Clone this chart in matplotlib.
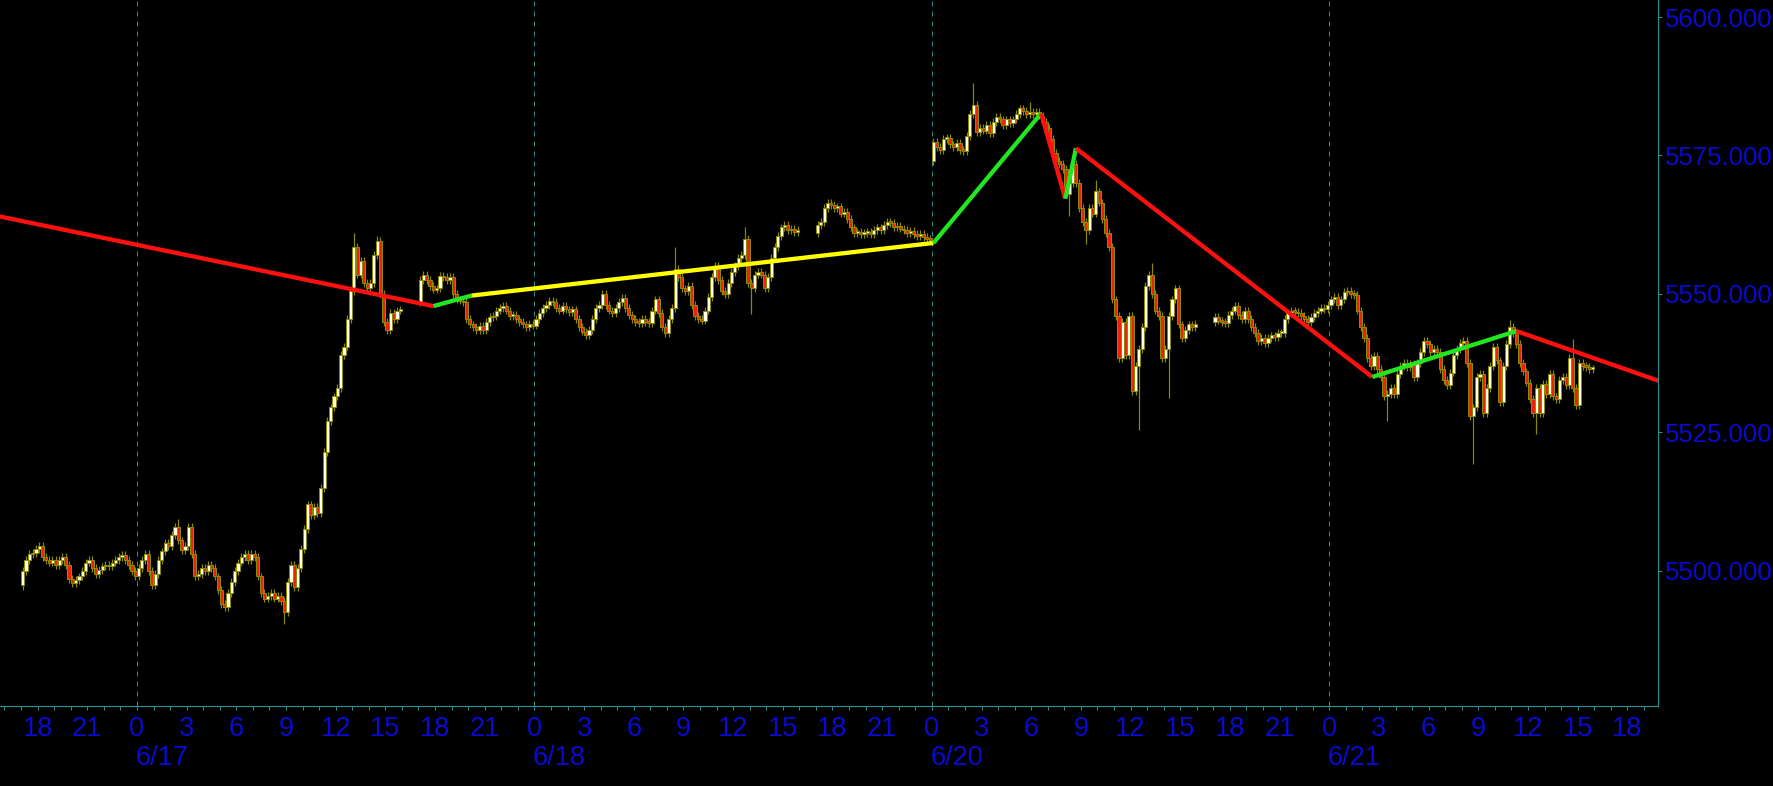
import matplotlib
matplotlib.use('Agg')
import matplotlib.pyplot as plt

plt.rcParams['font.family'] = ['Liberation Sans', 'DejaVu Sans']

# ---------------- data ----------------
# Time axis: hours from 6/17 00:00 on the chart's compressed axis (6/19 is skipped).
# Bars are 12-minute bars (5 per hour). Each session: start hour, first open, closes.
session_starts = [-7.0, 17.0, 41.0, 48.0, 65.0]
session_opens = [5497.5, 5548.5, 5561.0, 5574.0, 5545.0]

close_s1 = [
    5500.0, 5502.0, 5503.0, 5503.2, 5504.0,
    5504.5, 5502.5, 5502.0, 5501.5, 5502.0,
    5501.0, 5502.0, 5502.5, 5501.0, 5498.5,
    5497.8, 5498.3, 5499.0, 5500.0, 5501.5,
    5502.0, 5500.5, 5499.5, 5500.2, 5500.8,
    5501.0, 5500.8, 5501.5, 5502.0, 5502.5,
    5502.8, 5502.0, 5501.0, 5500.0, 5499.0,
    5500.5, 5502.0, 5503.0, 5500.0, 5497.5,
    5499.5, 5502.0, 5503.5, 5505.0, 5504.5,
    5506.5, 5508.0, 5505.5, 5503.8, 5504.5,
    5508.0, 5503.0, 5499.0, 5499.5, 5500.5,
    5500.0, 5501.0, 5500.5, 5499.0, 5496.5,
    5494.0, 5493.5, 5496.0, 5498.0, 5500.0,
    5501.5, 5502.5, 5503.0, 5502.0, 5503.0,
    5502.5, 5499.0, 5496.0, 5495.0, 5495.5,
    5496.0, 5495.0, 5495.5, 5494.5, 5492.5,
    5498.0, 5501.0, 5497.0, 5500.5, 5504.0,
    5507.5, 5512.0, 5510.0, 5511.5, 5510.5,
    5515.0, 5521.5, 5527.0, 5529.5, 5531.5,
    5533.0, 5539.0, 5540.5, 5545.5, 5550.5,
    5558.5, 5553.5, 5556.0, 5552.0, 5551.0,
    5552.0, 5557.0, 5559.5, 5550.0, 5545.0,
    5543.5, 5546.5, 5545.5, 5547.0, 5547.2,
]
close_s2 = [
    5552.5, 5553.5, 5552.5, 5551.5, 5550.8,
    5551.0, 5553.2, 5553.0, 5552.5, 5553.0,
    5550.0, 5549.0, 5548.8, 5548.5, 5545.5,
    5544.5, 5544.0, 5543.5, 5544.2, 5543.5,
    5545.0, 5545.8, 5546.0, 5547.0, 5547.5,
    5547.8, 5547.0, 5546.0, 5546.2, 5545.5,
    5545.0, 5544.5, 5544.0, 5544.6, 5544.3,
    5545.5, 5546.5, 5547.5, 5548.0, 5548.8,
    5548.5, 5547.5, 5547.0, 5547.8, 5547.2,
    5546.8, 5547.2, 5545.5, 5544.0, 5543.2,
    5542.5, 5543.5, 5545.5, 5547.5, 5548.0,
    5550.0, 5548.0, 5547.0, 5546.5, 5547.5,
    5548.5, 5549.2, 5547.5, 5546.2, 5545.5,
    5545.0, 5544.8, 5545.5, 5545.0, 5544.8,
    5547.0, 5549.0, 5546.5, 5544.0, 5543.0,
    5545.5, 5547.5, 5554.5, 5553.0, 5551.0,
    5550.5, 5551.5, 5548.0, 5546.0, 5545.5,
    5545.2, 5547.0, 5549.5, 5553.0, 5555.0,
    5552.5, 5550.5, 5550.0, 5552.0, 5554.0,
    5555.0, 5556.5, 5557.0, 5560.0, 5552.0,
    5551.0, 5553.5, 5554.0, 5553.5, 5551.0,
    5553.0, 5556.5, 5558.5, 5560.5, 5562.0,
    5562.5, 5561.5, 5561.8, 5561.2, 5561.5,
]
close_s3 = [
    5562.5, 5563.0, 5565.5, 5566.5, 5566.0,
    5565.5, 5565.8, 5564.5, 5564.8, 5563.5,
    5562.0, 5561.0, 5561.2, 5560.8, 5561.0,
    5561.2, 5560.8, 5561.5, 5562.0, 5561.5,
    5562.5, 5563.0, 5562.8, 5562.0, 5562.3,
    5561.8, 5561.5, 5561.0, 5561.3, 5560.8,
    5560.5, 5560.8, 5560.3, 5560.0, 5559.8,
]
close_s4 = [
    5577.5, 5576.5, 5576.0, 5578.0, 5578.2,
    5577.0, 5576.5, 5577.2, 5576.0, 5575.8,
    5578.5, 5582.5, 5584.2, 5579.2, 5580.0,
    5579.5, 5580.5, 5579.0, 5581.0, 5582.0,
    5581.5, 5580.5, 5581.5, 5580.8, 5581.5,
    5582.5, 5583.5, 5583.0, 5582.5, 5582.8,
    5582.5, 5582.8, 5582.2, 5581.0, 5580.0,
    5578.0, 5575.5, 5574.0, 5573.5, 5572.5,
    5568.0, 5570.0, 5573.5, 5570.0, 5565.5,
    5563.0, 5561.5, 5565.5, 5564.5, 5568.5,
    5566.5, 5563.5, 5561.0, 5558.5, 5549.0,
    5546.0, 5538.5, 5545.0, 5539.0, 5546.0,
    5532.5, 5537.0, 5540.0, 5544.0, 5551.5,
    5553.5, 5550.0, 5547.0, 5546.0, 5538.5,
    5540.0, 5546.0, 5549.0, 5551.0, 5544.5,
    5542.0, 5543.5, 5544.5, 5544.0, 5544.6,
]
close_s5 = [
    5545.8, 5545.2, 5545.0, 5544.8, 5546.2,
    5547.0, 5547.8, 5546.2, 5545.5, 5547.0,
    5545.5, 5544.0, 5543.0, 5541.5, 5542.0,
    5541.2, 5542.0, 5542.5, 5542.2, 5543.0,
    5543.0, 5545.5, 5546.5, 5547.0, 5546.8,
    5546.5, 5546.0, 5545.5, 5545.0, 5545.8,
    5546.5, 5547.0, 5547.5, 5547.2, 5548.0,
    5549.0, 5549.5, 5548.0, 5549.0, 5550.3,
    5550.5, 5550.0, 5549.8, 5547.0, 5544.0,
    5542.0, 5538.5, 5537.0, 5538.8, 5536.5,
    5535.0, 5531.5, 5532.0, 5533.0, 5532.0,
    5535.5, 5537.0, 5537.5, 5536.8, 5537.4,
    5535.0, 5537.5, 5539.5, 5541.5, 5541.0,
    5539.5, 5540.0, 5539.5, 5536.5, 5534.5,
    5533.5, 5535.8, 5539.0, 5540.0, 5541.2,
    5541.5, 5537.5, 5528.0, 5529.5, 5535.0,
    5535.5, 5528.5, 5533.0, 5537.0, 5540.5,
    5538.0, 5530.5, 5537.0, 5541.0, 5544.0,
    5543.0, 5541.0, 5537.5, 5536.0, 5534.0,
    5531.0, 5528.5, 5533.0, 5528.5, 5533.8,
    5532.0, 5535.5, 5531.5, 5531.0, 5534.5,
    5535.0, 5533.5, 5538.5, 5533.0, 5530.0,
    5537.5, 5537.0, 5536.8, 5536.5, 5536.5,
]
session_closes = [close_s1, close_s2, close_s3, close_s4, close_s5]

# Notable wick extremes (bar start hour -> price)
high_marks = {2.4: 5509.3, 13.0: 5561.0, 14.4: 5560.5, 32.4: 5558.5, 36.6: 5562.0,
              41.6: 5567.2, 50.4: 5588.0, 53.8: 5584.6, 57.8: 5570.5, 61.2: 5555.5,
              82.8: 5545.3, 86.6: 5541.8}
low_marks = {-7.0: 5496.5, 5.4: 5493.0, 8.8: 5490.4, 27.2: 5541.8, 37.0: 5546.4,
             56.2: 5564.0, 57.2: 5559.0, 60.4: 5525.5, 62.2: 5531.3, 75.4: 5527.0,
             80.6: 5519.3, 84.4: 5524.7}
wick_default = 0.7

# Trend lines (zig-zag)
trend_t = [-8.3, 17.9, 20.2, 48.1, 54.6, 56.06, 56.7, 74.6, 83.3, 91.9]
trend_p = [5564.0, 5547.8, 5549.7, 5559.2, 5582.6, 5567.2, 5576.3, 5535.0, 5543.3, 5534.3]
trend_colors = ['#FF1010', '#22E622', '#FFFF00', '#22E622', '#FF1010',
                '#22E622', '#FF1010', '#22E622', '#FF1010']

# Axis labelling
hour_ticks = list(range(-6, 91, 3))
day_starts = [0, 24, 48, 72]
day_labels = ['6/17', '6/18', '6/20', '6/21']
price_ticks = [5500, 5525, 5550, 5575, 5600]

# ---------------- build OHLC ----------------
t_all, o_all, c_all = [], [], []
for start, op, cl in zip(session_starts, session_opens, session_closes):
    prev = op
    for i, c in enumerate(cl):
        t_all.append(round(start + 0.2 * i, 1))
        o_all.append(prev)
        c_all.append(c)
        prev = c
h_all, l_all = [], []
for t, o, c in zip(t_all, o_all, c_all):
    hi = max(o, c) + wick_default
    lo = min(o, c) - wick_default
    if t in high_marks:
        hi = max(hi, high_marks[t])
    if t in low_marks:
        lo = min(lo, low_marks[t])
    h_all.append(hi)
    l_all.append(lo)

# ---------------- style ----------------
BG = 'black'
TEAL = '#2E8E8E'
BLUE = '#0A0AD2'
OLIVE = '#8E8A00'
UP = '#FFFFEA'
DOWN = '#EE2208'
px = 72.0 / 100.0  # one pixel in points

fig = plt.figure(figsize=(17.73, 7.86), dpi=100, facecolor=BG)
ax = fig.add_axes([0.0, 1 - 706 / 786, 1658 / 1773, 706 / 786])
ax.set_facecolor(BG)
ax.set_xlim(-8.27, 91.85)
ax.set_ylim(5475.6, 5603.07)

for d in day_starts:
    ax.axvline(d, color=TEAL, lw=1 * px, ls=(0, (5, 5)), zorder=1)

xs = [t + 0.1 for t in t_all]
ax.vlines(xs, l_all, h_all, color=OLIVE, lw=1.2 * px, zorder=2)
bottoms = [min(o, c) for o, c in zip(o_all, c_all)]
heights = [max(abs(c - o), 0.3) for o, c in zip(o_all, c_all)]
colors = [UP if c >= o else DOWN for o, c in zip(o_all, c_all)]
ax.bar(xs, heights, bottom=bottoms, width=0.19, color=colors,
       edgecolor=OLIVE, linewidth=1.0 * px, zorder=3)

for i in range(len(trend_t) - 1):
    ax.plot(trend_t[i:i + 2], trend_p[i:i + 2], color=trend_colors[i],
            lw=4.3 * px, solid_capstyle='butt', zorder=5)

for s in ['top', 'left']:
    ax.spines[s].set_visible(False)
for s in ['right', 'bottom']:
    ax.spines[s].set_color(TEAL)
    ax.spines[s].set_linewidth(1.2 * px)

ax.yaxis.tick_right()
ax.set_yticks(price_ticks)
ax.set_yticklabels([f'{v:.3f}' for v in price_ticks])
ax.tick_params(axis='y', direction='out', length=4 * px, width=1 * px, color=TEAL,
               labelcolor=BLUE, labelsize=18.5, pad=2)

ax.set_xticks(hour_ticks)
ax.set_xticklabels([str(h % 24) for h in hour_ticks])
ax.set_xticks(list(range(-8, 92)), minor=True)
ax.tick_params(axis='x', which='both', direction='out', length=4 * px, width=1 * px,
               color=TEAL, labelcolor=BLUE, labelsize=19.5, pad=4)

for d, lab in zip(day_starts, day_labels):
    ax.annotate(lab, xy=(d, 0), xycoords=('data', 'axes fraction'),
                xytext=(-1, -52 * px), textcoords='offset points',
                ha='left', va='center', color=BLUE, fontsize=19.5)

fig.savefig('out.png', dpi=100, facecolor=BG)
